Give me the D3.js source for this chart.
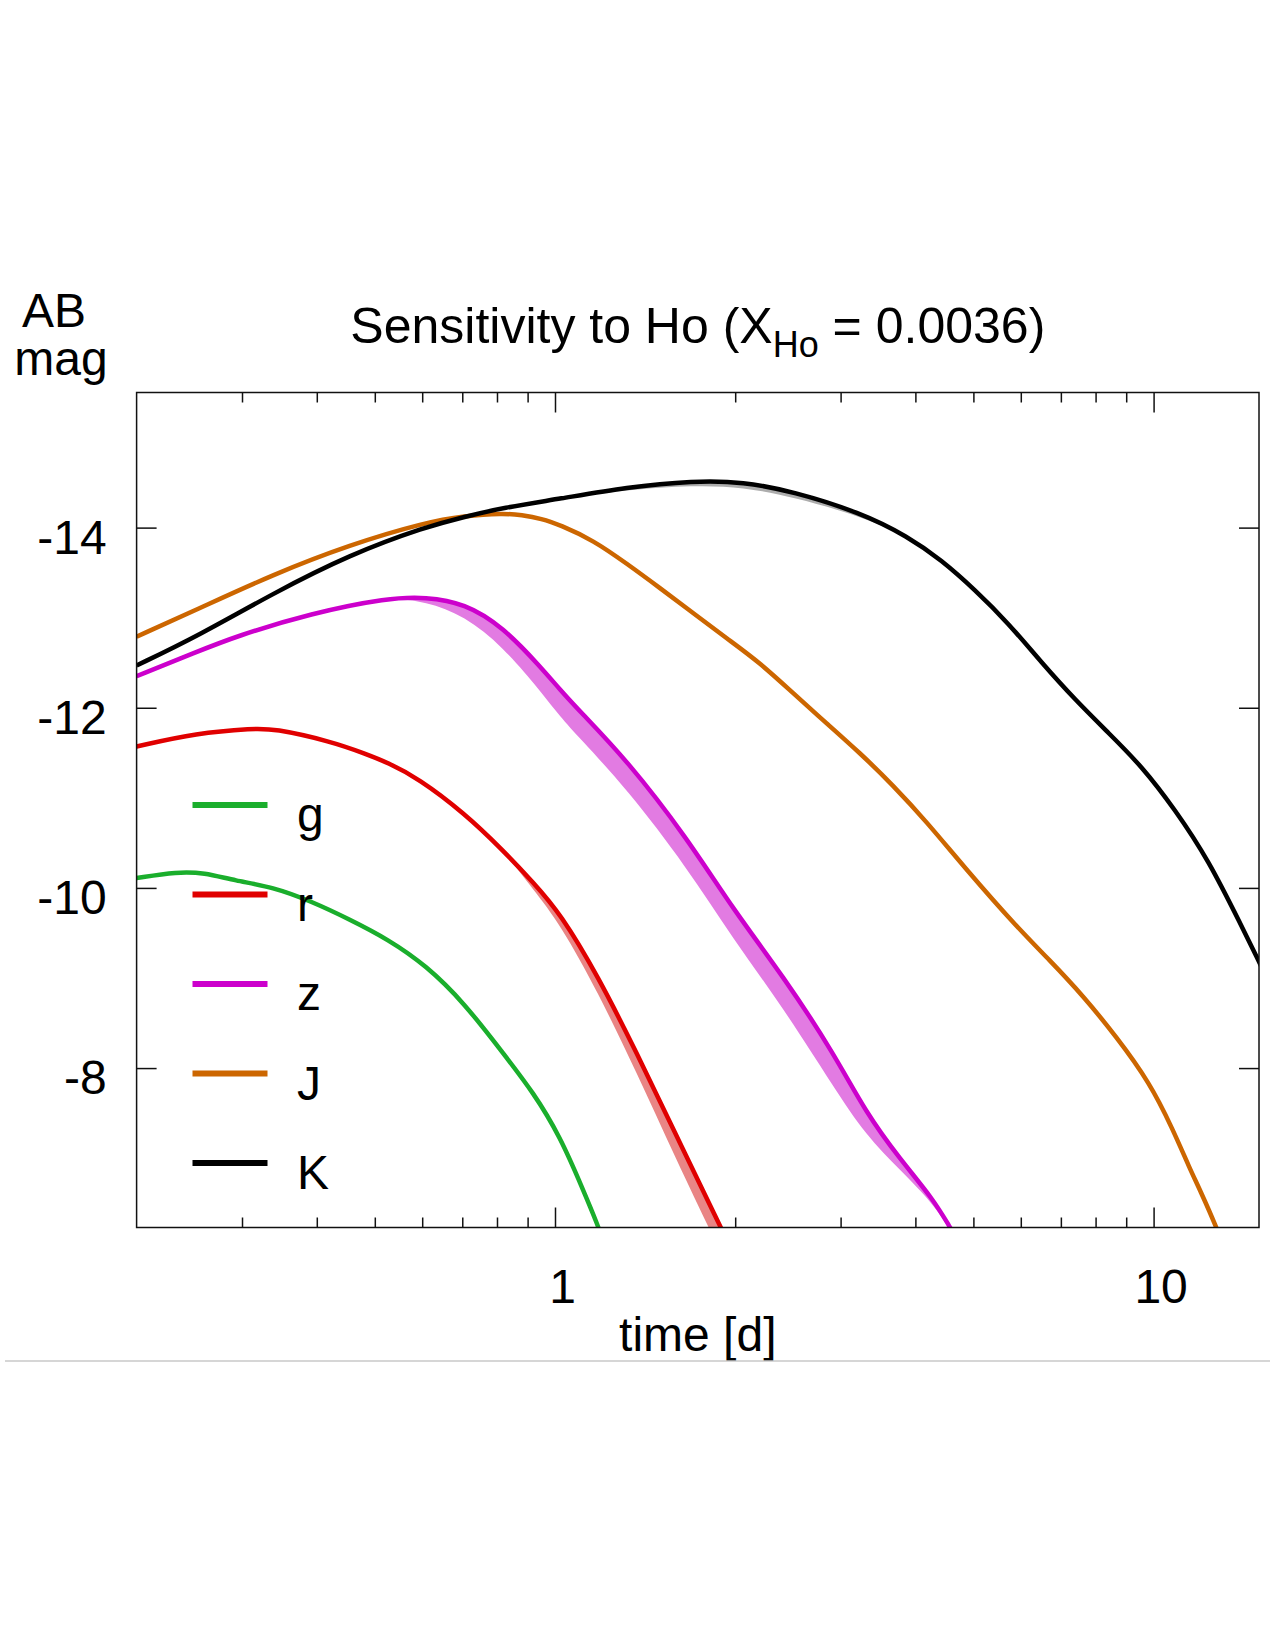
<!DOCTYPE html>
<html>
<head>
<meta charset="utf-8">
<script src="https://cdn.jsdelivr.net/npm/d3@7"></script>
<style>
  body { margin: 0; background: #fff; }
  svg { display: block; }
  text { font-family: "Liberation Sans", Arial, Helvetica, sans-serif; fill: #000; }
</style>
</head>
<body>
<svg width="1275" height="1650"></svg>
<script>
// light curves: [time in days, AB magnitude]
var gCurve = [
  [0.2,-10.11],[0.234,-10.18],[0.259,-10.17],[0.292,-10.08],[0.338,-10.01],
  [0.392,-9.85],[0.454,-9.65],[0.526,-9.43],[0.609,-9.14],[0.706,-8.72],
  [0.818,-8.17],[0.92,-7.73],[1.02,-7.24],[1.114,-6.65],[1.18,-6.25],[1.2,-6.1]
];
var rCurve = [
  [0.2,-11.57],[0.252,-11.72],[0.314,-11.77],[0.338,-11.77],[0.421,-11.63],
  [0.482,-11.49],[0.526,-11.39],[0.59,-11.22],[0.706,-10.83],[0.818,-10.42],
  [0.92,-10.06],[1.02,-9.72],[1.18,-9.02],[1.369,-8.17],[1.587,-7.28],[1.886,-6.25],[1.95,-6.05]
];
var zCurve = [
  [0.2,-12.35],[0.252,-12.62],[0.292,-12.79],[0.392,-13.05],[0.526,-13.22],
  [0.609,-13.23],[0.706,-13.16],[0.818,-12.9],[0.947,-12.45],[1.02,-12.2],
  [1.097,-11.97],[1.318,-11.42],[1.66,-10.56],[1.985,-9.76],[2.406,-9.02],
  [2.92,-8.17],[3.31,-7.5],[3.77,-6.99],[4.29,-6.54],[4.57,-6.23],[4.7,-6.1]
];
var jCurve = [
  [0.2,-12.79],[0.252,-13.09],[0.338,-13.48],[0.454,-13.81],[0.609,-14.06],
  [0.706,-14.13],[0.818,-14.16],[0.88,-14.14],[0.95,-14.1],[1.019,-14.03],
  [1.159,-13.86],[1.318,-13.6],[1.497,-13.33],[1.703,-13.05],[1.936,-12.77],
  [2.2,-12.5],[2.5,-12.16],[2.84,-11.83],[3.23,-11.5],[3.67,-11.14],[4.17,-10.74],
  [4.87,-10.2],[5.9,-9.57],[6.7,-9.2],[7.63,-8.8],[8.66,-8.35],[9.85,-7.84],
  [10.77,-7.32],[11.5,-6.88],[11.95,-6.65],[12.8,-6.2],[13.0,-6.05]
];
var kCurve = [
  [0.2,-12.47],[0.252,-12.79],[0.338,-13.27],[0.454,-13.7],[0.609,-14.01],
  [0.706,-14.12],[0.818,-14.22],[1.019,-14.32],[1.318,-14.45],[1.703,-14.52],
  [2.063,-14.51],[2.5,-14.4],[3.23,-14.17],[3.89,-13.9],[4.42,-13.64],
  [5.03,-13.31],[5.72,-12.94],[6.5,-12.5],[7.39,-12.09],[8.41,-11.72],
  [9.56,-11.35],[10.86,-10.87],[12.35,-10.31],[14.04,-9.57],[14.96,-9.2],[15.2,-9.1]
];

// spread from the Ho abundance: [time, bright edge, faint edge]
var rBand = [
  [0.818,-10.42,-10.42],[0.92,-10.06,-9.98],[1.02,-9.72,-9.6],[1.18,-9.02,-8.84],
  [1.369,-8.17,-7.95],[1.587,-7.28,-7.01],[1.886,-6.25,-5.97]
];
var zBand = [
  [0.526,-13.22,-13.22],[0.609,-13.23,-13.18],[0.706,-13.16,-13.02],[0.818,-12.9,-12.68],
  [0.947,-12.45,-12.18],[1.02,-12.2,-11.9],[1.097,-11.97,-11.67],[1.318,-11.42,-11.1],
  [1.66,-10.56,-10.23],[1.985,-9.76,-9.43],[2.406,-9.02,-8.67],[2.92,-8.17,-7.79],
  [3.31,-7.5,-7.25],[3.77,-6.99,-6.87],[4.29,-6.54,-6.49],[4.57,-6.23,-6.2]
];
var kBand = [
  [1.019,-14.32,-14.32],[1.318,-14.45,-14.42],[1.703,-14.52,-14.47],[2.063,-14.51,-14.45],
  [2.5,-14.4,-14.34],[3.23,-14.17,-14.13],[3.89,-13.9,-13.9]
];

var bandNames = ["g", "r", "z", "J", "K"];
var bandColors = ["#1aae2c", "#e00000", "#cc00cc", "#cc6600", "#000000"];
var curves = [gCurve, rCurve, zCurve, jCurve, kCurve];

var xMajor = [1, 10];
var xMinor = [0.3, 0.4, 0.5, 0.6, 0.7, 0.8, 0.9, 2, 3, 4, 5, 6, 7, 8, 9];
var yTicks = [-14, -12, -10, -8];

var svg = d3.select("svg");
var pLeft = 136.6, pRight = 1259, pTop = 392.5, pBottom = 1227.5;

var x = d3.scaleLog().domain([0.2, 15]).range([pLeft, pRight]);
var y = d3.scaleLinear().domain([-6.23, -15.5]).range([pBottom, pTop]);

svg.append("defs").append("clipPath").attr("id", "plot")
  .append("rect")
  .attr("x", pLeft).attr("y", pTop)
  .attr("width", pRight - pLeft).attr("height", pBottom - pTop);

// b-spline smooths out the jitter of hand-read points
var line = d3.line()
  .x(function(d) { return x(d[0]); })
  .y(function(d) { return y(d[1]); })
  .curve(d3.curveBasis);

var area = d3.area()
  .x(function(d) { return x(d[0]); })
  .y0(function(d) { return y(d[2]); })
  .y1(function(d) { return y(d[1]); })
  .curve(d3.curveBasis);

var plot = svg.append("g").attr("clip-path", "url(#plot)");

// shaded bands first, lines on top
plot.append("path").datum(kBand).attr("d", area).attr("fill", "#8a8a8a").attr("opacity", 0.7);
plot.append("path").datum(rBand).attr("d", area).attr("fill", "#e98585");
plot.append("path").datum(zBand).attr("d", area).attr("fill", "#e27be2");

curves.forEach(function(c, i) {
  plot.append("path")
    .datum(c)
    .attr("d", line)
    .attr("fill", "none")
    .attr("stroke", bandColors[i])
    .attr("stroke-width", 4.5)
    .attr("stroke-linejoin", "round");
});

// axes, ticks pointing inwards on all four sides
function styleAxis(g) {
  g.select(".domain").remove();
  g.selectAll(".tick line").attr("stroke", "#111").attr("stroke-width", 1.5);
  g.selectAll("text").attr("font-size", 48).attr("fill", "#000");
}

svg.append("g").attr("transform", "translate(0," + pBottom + ")")
  .call(d3.axisBottom(x).tickValues(xMajor).tickSize(-20).tickPadding(41)
    .tickFormat(function(d) { return String(d); }))
  .call(styleAxis)
  .selectAll("text").attr("dx", 7);

svg.append("g").attr("transform", "translate(0," + pBottom + ")")
  .call(d3.axisBottom(x).tickValues(xMinor).tickSize(-10).tickFormat(""))
  .call(styleAxis);

svg.append("g").attr("transform", "translate(0," + pTop + ")")
  .call(d3.axisTop(x).tickValues(xMajor).tickSize(-20).tickFormat(""))
  .call(styleAxis);

svg.append("g").attr("transform", "translate(0," + pTop + ")")
  .call(d3.axisTop(x).tickValues(xMinor).tickSize(-10).tickFormat(""))
  .call(styleAxis);

// plain hyphen for the minus sign, as in the original
svg.append("g").attr("transform", "translate(" + pLeft + ",0)")
  .call(d3.axisLeft(y).tickValues(yTicks).tickSize(-20).tickPadding(30)
    .tickFormat(function(d) { return String(d); }))
  .call(styleAxis)
  .selectAll("text").attr("dy", "0.53em");

svg.append("g").attr("transform", "translate(" + pRight + ",0)")
  .call(d3.axisRight(y).tickValues(yTicks).tickSize(-20).tickFormat(""))
  .call(styleAxis);

svg.append("rect")
  .attr("x", pLeft).attr("y", pTop)
  .attr("width", pRight - pLeft).attr("height", pBottom - pTop)
  .attr("fill", "none").attr("stroke", "#111").attr("stroke-width", 1.5);

// legend
var legend = svg.append("g");
bandNames.forEach(function(name, i) {
  var ly = 805 + i * 89.5;
  legend.append("line")
    .attr("x1", 192.5).attr("x2", 267.5)
    .attr("y1", ly).attr("y2", ly)
    .attr("stroke", bandColors[i]).attr("stroke-width", 6);
  legend.append("text")
    .attr("x", 297).attr("y", ly + 26)
    .attr("font-size", 48)
    .text(name);
});

// titles
var title = svg.append("text")
  .attr("x", (pLeft + pRight) / 2).attr("y", 343)
  .attr("text-anchor", "middle")
  .attr("font-size", 50);
title.append("tspan").text("Sensitivity to Ho (X");
title.append("tspan").attr("font-size", 36).attr("dy", 14).text("Ho");
title.append("tspan").attr("dy", -14).text(" = 0.0036)");

svg.append("text").attr("x", 54).attr("y", 327)
  .attr("text-anchor", "middle").attr("font-size", 48).text("AB");
svg.append("text").attr("x", 61).attr("y", 375)
  .attr("text-anchor", "middle").attr("font-size", 48).text("mag");

svg.append("text").attr("x", (pLeft + pRight) / 2).attr("y", 1351)
  .attr("text-anchor", "middle").attr("font-size", 48).text("time [d]");

// thin rule under the figure
svg.append("line")
  .attr("x1", 5).attr("x2", 1270)
  .attr("y1", 1361).attr("y2", 1361)
  .attr("stroke", "#c8c8c8").attr("stroke-width", 1.5);
</script>
</body>
</html>
